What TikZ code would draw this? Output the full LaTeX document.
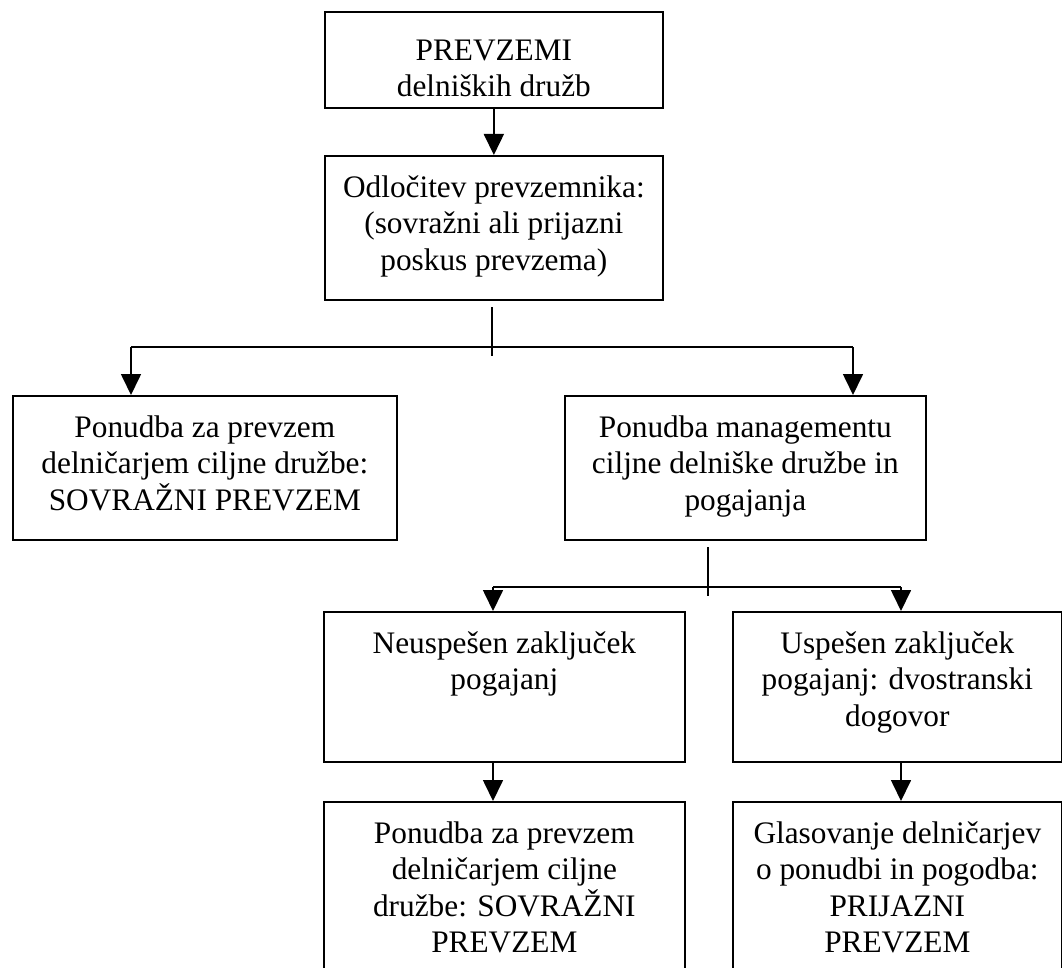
\documentclass[tikz,border=0pt]{standalone}
\usepackage{fontspec}
\setmainfont{Liberation Serif}
\usetikzlibrary{arrows.meta,calc}
\begin{document}
\begin{tikzpicture}[x=1pt,y=-1pt,
  box/.style={draw, line width=1.7pt, rectangle, inner sep=0pt, anchor=north west},
  txt/.style={font=\fontsize{31.3}{36.5}\selectfont, align=center, inner sep=0pt, anchor=north},
  link/.style={line width=1.7pt},
  arr/.style={line width=1.7pt, -{Triangle[length=21pt,width=20pt]}}]
\useasboundingbox (0,0) rectangle (1062,968);
\clip (0,0) rectangle (1062,968);
% boxes
\node[box, minimum width=338pt, minimum height=96pt]  (b1) at (324,11) {};
\node[box, minimum width=338pt, minimum height=144pt] (b2) at (324,155) {};
\node[box, minimum width=384pt, minimum height=144pt] (b3) at (12,395) {};
\node[box, minimum width=361pt, minimum height=144pt] (b4) at (564,395) {};
\node[box, minimum width=361pt, minimum height=150pt] (b5) at (323,611) {};
\node[box, minimum width=329pt, minimum height=150pt] (b6) at (732,611) {};
\node[box, minimum width=361pt, minimum height=220pt] (b7) at (323,801) {};
\node[box, minimum width=329pt, minimum height=220pt] (b8) at (732,801) {};
% texts
\node[txt] (t1) at ($(b1.north)+(0,23.5)$) {\strut PREVZEMI\\delniških družb};
\node[txt] (t2) at ($(b2.north)+(0,16.5)$) {\strut Odločitev prevzemnika:\\(sovražni ali prijazni\\poskus prevzema)};
\node[txt] (t3) at ($(b3.north)+(0,16.5)$) {\strut Ponudba za prevzem\\delničarjem ciljne družbe:\\SOVRAŽNI PREVZEM};
\node[txt] (t4) at ($(b4.north)+(0,16.5)$) {\strut Ponudba managementu\\ciljne delniške družbe in\\pogajanja};
\node[txt] (t5) at ($(b5.north)+(0,16.5)$) {\strut Neuspešen zaključek\\pogajanj};
\node[txt] (t6) at ($(b6.north)+(0,16.5)$) {\strut Uspešen zaključek\\pogajanj: dvostranski\\dogovor};
\node[txt] (t7) at ($(b7.north)+(0,16.5)$) {\strut Ponudba za prevzem\\delničarjem ciljne\\družbe: SOVRAŽNI\\PREVZEM};
\node[txt] (t8) at ($(b8.north)+(0,16.5)$) {\strut Glasovanje delničarjev\\o ponudbi in pogodba:\\PRIJAZNI\\PREVZEM};
% connectors
\draw[arr] (b1.south) -- (b2.north);
\coordinate (s1t) at (492,307);
\coordinate (s1b) at (492,356);
\coordinate (h1l) at (131,347);
\coordinate (h1r) at (853,347);
\draw[link] (s1t) -- (s1b);
\draw[link] (h1l) -- (h1r);
\draw[arr] (h1l) -- (h1l |- b3.north);
\draw[arr] (h1r) -- (h1r |- b4.north);
\coordinate (s2t) at (708,547);
\coordinate (s2b) at (708,596);
\coordinate (h2l) at (493,587);
\coordinate (h2r) at (901,587);
\draw[link] (s2t) -- (s2b);
\draw[link] (h2l) -- (h2r);
\draw[arr] (h2l) -- (h2l |- b5.north);
\draw[arr] (h2r) -- (h2r |- b6.north);
\draw[arr] (b5.south -| h2l) -- (b7.north -| h2l);
\draw[arr] (b6.south -| h2r) -- (b8.north -| h2r);
\end{tikzpicture}
\end{document}
